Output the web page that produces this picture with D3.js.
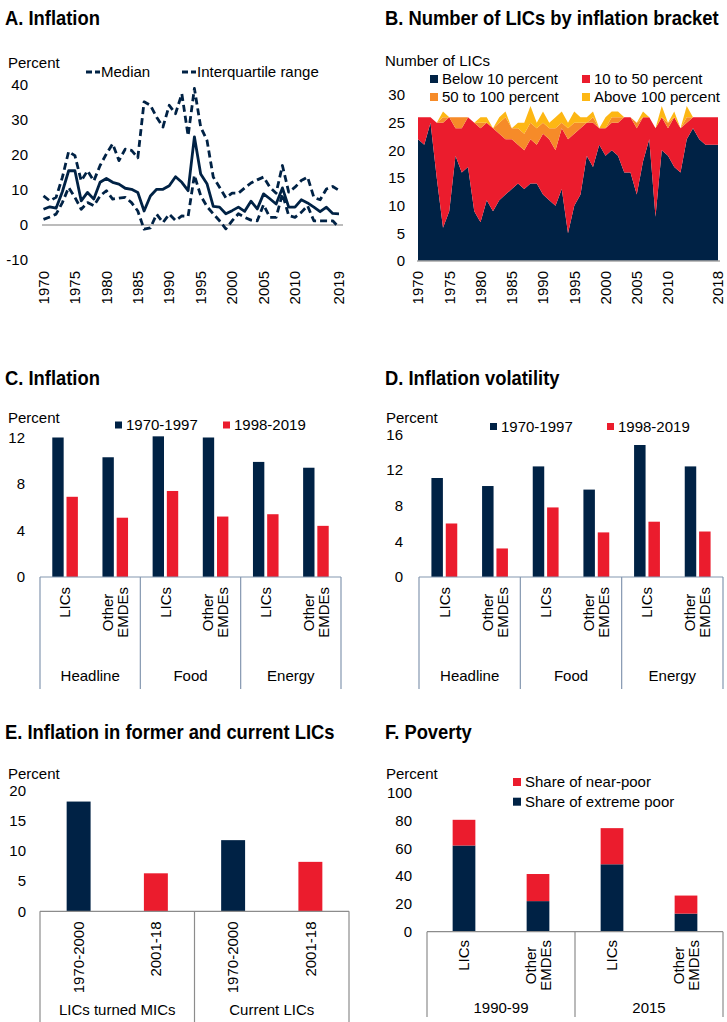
<!DOCTYPE html>
<html><head><meta charset="utf-8">
<script src="https://cdn.jsdelivr.net/npm/d3@7"></script>
<style>
body{margin:0;background:#fff;}
svg{display:block;font-family:"Liberation Sans",Arial,sans-serif;font-size:15px;fill:#000;}
.title{font-family:"Liberation Sans Narrow","Arial Narrow","Liberation Sans",sans-serif;font-weight:bold;font-size:21px;}
</style></head><body>
<svg id="chart" width="727" height="1022"></svg>
<script>
// ---------- Colours ----------
const NAVY = "#002245", RED = "#EB1C2D", ORANGE = "#F68B29", YELLOW = "#FDB714";
const AXIS_GREY = "#a6a6a6", BOX_LINE = "#8497b0";

// ---------- Panel A: inflation median and interquartile range ----------
const yearsA = [...d3.range(1970, 2017), 2019];
const medianA = [4.5,5.2,4.8,9.5,15.5,15.5,6.9,9.3,7.4,12.2,
                 13.3,12.2,11.7,10.5,10.2,9.3,4.0,8.3,10.2,10.2,
                 11.2,13.8,12.2,9.8,25.2,14.6,11.8,5.3,5.1,3.2,
                 4.1,5.1,3.9,6.8,4.6,8.9,7.5,6.0,10.6,5.1,
                 5.1,7.2,6.3,5.1,3.8,5.1,3.3,3.2];
const upperA = [8.3,6.9,7.9,13.6,21,19.8,12.6,15.5,12.6,17,
                20.3,23.2,18.4,21.7,21.3,19.2,35.2,34.2,30.8,28,
                34.2,31.8,37.5,25.5,39,28,24.2,13.7,10.8,7.8,
                9.1,9.1,10.6,12,12.9,13.7,10.8,9.1,17,9.4,
                10.8,12.7,13.7,7.9,7.2,10.3,11,9.9];
const lowerA = [1.6,2.3,3.1,6.4,10.7,7.9,4.5,6.4,5.5,8.3,
                9.8,7.4,7.7,7.9,6.4,4.0,-1.2,-0.8,3.1,0.7,
                3.1,1.3,2.6,2.5,14.2,8.4,5.3,3.2,1.2,-1.1,
                1.2,3.2,2.2,1.4,1.2,5.8,2.2,2.2,8.9,2.7,
                2.2,3.6,5.5,1.2,1.2,1.2,1.2,-0.7];
const xTicksA = [1970,1975,1980,1985,1990,1995,2000,2005,2010,2019];
const yTicksA = [-10,0,10,20,30,40];

// ---------- Panel B: number of LICs by inflation bracket ----------
const yearsB = d3.range(1970, 2019);
const below10 = [22,21,25,15,6,9,19,16,17,9, 7,11,9,11,12,13,14,13,14,14,
                 12,11,10,13,5,10,12,19,17,21, 19,20,19,16,16,12,18,22,8,20,
                 19,17,16,22,24,22,21,21,21];
const from10to50 = [4,5,1,10,19,17,5,8,9,16, 17,14,15,12,10,9,7,7,8,7,
                    11,11,10,11,17,13,12,6,8,3, 5,5,6,10,10,12,8,4,16,6,
                    5,9,8,3,2,4,5,5,5];
const from50to100 = [0,0,0,0,1,0,2,2,0,0, 1,0,0,2,4,2,3,3,3,3,
                     2,2,4,1,2,2,1,0,1,0, 0,1,1,0,0,1,0,0,0,0,
                     1,0,0,1,0,0,0,0,0];
const above100 = [0,0,0,0,1,0,0,0,0,0, 1,1,0,1,1,0,1,2,3,1,
                  2,1,2,2,1,2,1,1,1,0, 2,1,1,0,0,0,1,0,0,2,
                  0,1,0,2,0,0,0,0,0];
const xTicksB = [1970,1975,1980,1985,1990,1995,2000,2005,2010,2018];
const yTicksB = [0,5,10,15,20,25,30];
const bracketNames = ["Below 10 percent","10 to 50 percent","50 to 100 percent","Above 100 percent"];

// ---------- Panels C and D: inflation and volatility by component ----------
const countryGroups = ["LICs","Other EMDEs"];
const components = ["Headline","Food","Energy"];
const periodNames = ["1970-1997","1998-2019"];
const inflEarly = [12.0,10.3,12.1,12.0,9.9,9.4];
const inflLate  = [6.9,5.1,7.4,5.2,5.4,4.4];
const volEarly  = [11.1,10.2,12.4,9.8,14.8,12.4];
const volLate   = [6.0,3.2,7.8,5.0,6.2,5.1];
const yTicksC = [0,4,8,12];
const yTicksD = [0,4,8,12,16];

// ---------- Panel E: former and current LICs ----------
const periodsE = ["1970-2000","2001-18"];
const groupsE = ["LICs turned MICs","Current LICs"];
const valuesE = [18.2,6.3,11.8,8.2];
const yTicksE = [0,5,10,15,20];

// ---------- Panel F: poverty ----------
const groupsF = ["1990-99","2015"];
const extremePoor = [62,22,48.5,13];
const nearPoor = [18.5,19.5,26,13];
const yTicksF = [0,20,40,60,80,100];

const svg = d3.select("#chart");
svg.append("rect").attr("width",727).attr("height",1022).attr("fill","#fff");

// condensed bold panel heading
function title(x, y, s){
  svg.append("text").attr("class","title")
    .attr("transform",`translate(${x},${y}) scale(0.875,1)`).text(s);
}
function label(x, y, s, anchor){
  return svg.append("text").attr("x",x).attr("y",y).attr("dy","0.35em")
    .attr("text-anchor",anchor||"start").text(s);
}
function yAxisLabels(scale, ticks, x){
  ticks.forEach(t => label(x, scale(t), t, "end"));
}
function legendSquare(x, cy, color, s, size){
  const sz = size || 8;
  svg.append("rect").attr("x",x).attr("y",cy - sz/2).attr("width",sz).attr("height",sz).attr("fill",color);
  label(x + sz + 4, cy, s);
}
// rotated, centre-aligned multi-line label whose top edge sits at `top`
function rotatedLabel(cx, top, s){
  const lines = s.split(" ");
  const lh = 15;
  const t = svg.append("text").attr("transform",`translate(${cx},${top}) rotate(-90)`)
    .attr("text-anchor","middle");
  lines.forEach((ln,i) => t.append("tspan").attr("x",0)
    .attr("y",(i - (lines.length-1)/2)*lh).attr("dy","0.35em").text(ln));
  const maxLen = d3.max(t.selectAll("tspan").nodes(), n => n.getComputedTextLength());
  t.selectAll("tspan").attr("x", -maxLen/2);
}
function rotatedTick(cx, top, s){
  svg.append("text").attr("transform",`translate(${cx},${top}) rotate(-90)`)
    .attr("text-anchor","end").attr("dy","0.35em").text(s);
}

// ================= Panel A =================
title(5, 25, "A. Inflation");
const xA = d3.scalePoint().domain(yearsA).range([43.5, 339]);
const yA = d3.scaleLinear().domain([-10, 40]).range([260, 85]);
label(8, 63, "Percent");
yAxisLabels(yA, yTicksA, 28);
svg.append("line").attr("x1",42).attr("x2",343).attr("y1",yA(0)).attr("y2",yA(0))
  .attr("stroke",AXIS_GREY).attr("stroke-width",1.5);
const lineA = d3.line().x((d,i) => xA(yearsA[i])).y(d => yA(d));
[[upperA,"7,4"],[lowerA,"7,4"],[medianA,null]].forEach(([series,dash]) => {
  svg.append("path").attr("d", lineA(series)).attr("fill","none")
    .attr("stroke",NAVY).attr("stroke-width",2.8).attr("stroke-linejoin","round")
    .attr("stroke-dasharray",dash);
});
xTicksA.forEach(y => rotatedTick(xA(y), 271, y));
// legend
[[86,"Median"],[182,"Interquartile range"]].forEach(([x,s]) => {
  svg.append("line").attr("x1",x).attr("x2",x+14).attr("y1",72).attr("y2",72)
    .attr("stroke",NAVY).attr("stroke-width",2.8).attr("stroke-dasharray","6,3");
  label(x+15, 72, s);
});

// ================= Panel B =================
title(385, 25, "B. Number of LICs by inflation bracket");
const xB = d3.scalePoint().domain(yearsB).range([418, 718]);
const yB = d3.scaleLinear().domain([0, 30]).range([261, 95]);
label(385, 61, "Number of LICs");
yAxisLabels(yB, yTicksB, 405);
const rowsB = yearsB.map((yr,i) => ({year:yr, a:below10[i], b:from10to50[i], c:from50to100[i], d:above100[i]}));
const stackB = d3.stack().keys(["a","b","c","d"])(rowsB);
const colorsB = [NAVY, RED, ORANGE, YELLOW];
const areaB = d3.area().x(d => xB(d.data.year)).y0(d => yB(d[0])).y1(d => yB(d[1]));
stackB.forEach((layer,i) => svg.append("path").attr("d", areaB(layer)).attr("fill", colorsB[i]));
svg.append("line").attr("x1",417).attr("x2",720).attr("y1",yB(0)).attr("y2",yB(0))
  .attr("stroke",AXIS_GREY).attr("stroke-width",1.5);
xTicksB.forEach(y => rotatedTick(xB(y), 271, y));
legendSquare(430, 79, colorsB[0], bracketNames[0]);
legendSquare(582, 79, colorsB[1], bracketNames[1]);
legendSquare(430, 97, colorsB[2], bracketNames[2]);
legendSquare(582, 97, colorsB[3], bracketNames[3]);

// ================= Panels C and D =================
function groupedPanel(opts){
  const {left, right, yTop, yMax, ticks, labelX, early, late, legendX} = opts;
  const base = 577;
  const cats = d3.range(6);
  const x = d3.scaleBand().domain(cats).range([left, right]);
  const inner = d3.scaleBand().domain([0,1]).range([x.bandwidth()*0.245, x.bandwidth()*0.755]).paddingInner(0.2);
  const y = d3.scaleLinear().domain([0, yMax]).range([base, yTop]);
  yAxisLabels(y, ticks, labelX);
  [early, late].forEach((vals, k) => {
    svg.append("g").selectAll("rect").data(vals).join("rect")
      .attr("x", (d,i) => x(i) + inner(k)).attr("width", inner.bandwidth())
      .attr("y", d => y(d)).attr("height", d => base - y(d))
      .attr("fill", k === 0 ? NAVY : RED);
  });
  svg.append("line").attr("x1",left).attr("x2",right).attr("y1",base).attr("y2",base)
    .attr("stroke",BOX_LINE).attr("stroke-width",1.2);
  [0,2,4,6].forEach(i => {
    const xx = i < 6 ? x(i) : right;
    svg.append("line").attr("x1",xx).attr("x2",xx).attr("y1",base).attr("y2",689)
      .attr("stroke",BOX_LINE).attr("stroke-width",1.2);
  });
  cats.forEach(i => rotatedLabel(x(i) + x.bandwidth()/2, 587, countryGroups[i % 2]));
  components.forEach((c,g) => label((x(2*g) + (g < 2 ? x(2*g+2) : right))/2, 676, c, "middle"));
  legendSquare(legendX[0], opts.legendY, NAVY, periodNames[0], 7);
  legendSquare(legendX[1], opts.legendY, RED, periodNames[1], 7);
  label(opts.percentX, 418, "Percent");
}
title(5, 385, "C. Inflation");
groupedPanel({left:40, right:341, yTop:437.5, yMax:12, ticks:yTicksC, labelX:25,
  early:inflEarly, late:inflLate, legendX:[115,223], legendY:425, percentX:8});
title(385, 385, "D. Inflation volatility");
groupedPanel({left:419, right:723, yTop:434.3, yMax:16, ticks:yTicksD, labelX:403,
  early:volEarly, late:volLate, legendX:[490,607], legendY:426.5, percentX:386});

// ================= Panel E =================
title(5, 739, "E. Inflation in former and current LICs");
{
  const base = 911.3, left = 40, right = 349;
  const x = d3.scaleBand().domain(d3.range(4)).range([left, right]);
  const y = d3.scaleLinear().domain([0, 20]).range([base, 790.7]);
  label(8, 774, "Percent");
  yAxisLabels(y, yTicksE, 26);
  const bw = x.bandwidth()*0.31;
  svg.append("g").selectAll("rect").data(valuesE).join("rect")
    .attr("x", (d,i) => x(i) + x.bandwidth()/2 - bw/2).attr("width", bw)
    .attr("y", d => y(d)).attr("height", d => base - y(d))
    .attr("fill", (d,i) => i % 2 === 0 ? NAVY : RED);
  svg.append("line").attr("x1",left).attr("x2",right).attr("y1",base).attr("y2",base)
    .attr("stroke","#8c8c8c").attr("stroke-width",1.2);
  [x(0), x(2), right].forEach(xx => svg.append("line").attr("x1",xx).attr("x2",xx)
    .attr("y1",base).attr("y2",1022).attr("stroke","#8c8c8c").attr("stroke-width",1.2));
  d3.range(4).forEach(i => rotatedTick(x(i) + x.bandwidth()/2, 921.5, periodsE[i % 2]));
  groupsE.forEach((g,k) => label((x(2*k) + (k === 0 ? x(2) : right))/2, 1010, g, "middle"));
}

// ================= Panel F =================
title(385, 739, "F. Poverty");
{
  const base = 931.7, left = 427, right = 723;
  const x = d3.scaleBand().domain(d3.range(4)).range([left, right]);
  const y = d3.scaleLinear().domain([0, 100]).range([base, 792.7]);
  label(386, 774, "Percent");
  yAxisLabels(y, yTicksF, 412);
  const bw = x.bandwidth()*0.307;
  const rows = extremePoor.map((e,i) => ({i, extreme:e, near:nearPoor[i]}));
  const stackF = d3.stack().keys(["extreme","near"])(rows);
  stackF.forEach((layer,k) => svg.append("g").selectAll("rect").data(layer).join("rect")
    .attr("x", d => x(d.data.i) + x.bandwidth()/2 - bw/2).attr("width", bw)
    .attr("y", d => y(d[1])).attr("height", d => y(d[0]) - y(d[1]))
    .attr("fill", k === 0 ? NAVY : RED));
  svg.append("line").attr("x1",left).attr("x2",right).attr("y1",base).attr("y2",base)
    .attr("stroke","#8c8c8c").attr("stroke-width",1.2);
  [x(0), x(2), right].forEach(xx => svg.append("line").attr("x1",xx).attr("x2",xx)
    .attr("y1",base).attr("y2",1017).attr("stroke","#8c8c8c").attr("stroke-width",1.2));
  d3.range(4).forEach(i => rotatedLabel(x(i) + x.bandwidth()/2, 940, countryGroups[i % 2]));
  groupsF.forEach((g,k) => label((x(2*k) + (k === 0 ? x(2) : right))/2, 1008, g, "middle"));
  legendSquare(513, 782, RED, "Share of near-poor");
  legendSquare(513, 801.7, NAVY, "Share of extreme poor");
}
</script>
</body></html>
